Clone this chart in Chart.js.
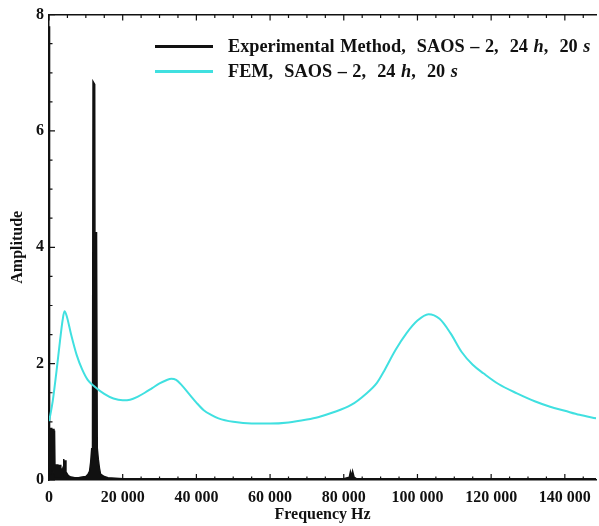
<!DOCTYPE html>
<html>
<head>
<meta charset="utf-8">
<script src="https://cdn.jsdelivr.net/npm/chart.js@4.4.1/dist/chart.umd.min.js"></script>
<style>
  body { margin: 0; background: #fff; }
  #wrap { position: relative; width: 599px; height: 526px; }
  #legend { position: absolute; left: 155px; top: 34px; font: bold 18.3px "Liberation Serif", serif; color: #111; word-spacing: 1px; }
  #legend .row { display: flex; align-items: center; height: 25px; white-space: pre; }
  #legend .swatch { width: 58px; height: 3px; margin-right: 15px; }
</style>
</head>
<body>
<div id="wrap">
  <canvas id="chart" width="599" height="526"></canvas>
  <div id="legend"></div>
</div>
<script>
// experimental spectrum (Hz, amplitude)
const expFreq = [0, 150, 300, 450, 600, 750, 900, 1050, 1200, 1350, 1500, 1650, 1800, 2000, 2200, 2400, 2600, 2800, 3000, 3200,
  3400, 3600, 3800, 4000, 4200, 4400, 4600, 4800, 5200, 5600, 6000, 7000, 8000, 9000, 10000, 10600, 11000, 11300, 11600, 11800,
  11950, 12050, 12400, 12550, 12700, 12900, 13100, 13400, 13700, 14000, 14500, 15000, 16000, 20000, 40000, 60000, 80000, 81500,
  81800, 82100, 82400, 82800, 83500, 100000, 120000, 148500];
const expAmp = [7.8, 0.2, 0.9, 0.1, 0.9, 0.2, 0.88, 0.15, 0.88, 0.1, 0.85, 0.05, 0.27, 0.05, 0.27, 0.05, 0.26, 0.05, 0.26, 0.05,
  0.2, 0.04, 0.22, 0.36, 0.04, 0.34, 0.05, 0.12, 0.08, 0.06, 0.05, 0.04, 0.04, 0.05, 0.06, 0.1, 0.15, 0.3, 0.55, 0.3,
  6.85, 6.85, 6.8, 0.5, 4.25, 4.25, 0.55, 0.35, 0.2, 0.1, 0.08, 0.06, 0.04, 0.02, 0.02, 0.02, 0.02, 0.05,
  0.14, 0.06, 0.15, 0.05, 0.02, 0.02, 0.02, 0.02];

// FEM response curve
const femFreq = [0, 1000, 2000, 3000, 3700, 4200, 4800, 6000, 7500, 9000, 10500, 12500, 15000, 17500, 20000, 22000, 24000,
  26000, 28000, 30000, 32000, 33200, 34500, 36000, 38000, 40000, 42000, 44000, 46000, 50000, 55000, 60000, 65000, 70000,
  73000, 77000, 82000, 86000, 89000, 91000, 94000, 97000, 100000, 103000, 106000, 109000, 112000, 115000, 118000, 122000,
  127000, 132000, 136000, 140000, 144000, 148500];
const femAmp = [1.0, 1.35, 1.85, 2.4, 2.75, 2.9, 2.82, 2.5, 2.15, 1.9, 1.72, 1.6, 1.48, 1.4, 1.37, 1.38, 1.43,
  1.5, 1.58, 1.66, 1.72, 1.74, 1.72, 1.63, 1.48, 1.33, 1.2, 1.12, 1.06, 1.0, 0.97, 0.97, 0.99, 1.04,
  1.08, 1.16, 1.29, 1.48, 1.67, 1.88, 2.23, 2.52, 2.74, 2.85, 2.77, 2.52, 2.2, 1.98, 1.83, 1.65,
  1.49, 1.35, 1.26, 1.19, 1.12, 1.06];

const xTicks = [0, 20000, 40000, 60000, 80000, 100000, 120000, 140000];
const xTickLabels = ['0', '20 000', '40 000', '60 000', '80 000', '100 000', '120 000', '140 000'];
const yTicks = [0, 2, 4, 6, 8];

const labels = [
  ['Experimental Method,  SAOS \u2013 2,  24 ', 'h', ',  20 ', 's'],
  ['FEM,  SAOS \u2013 2,  24 ', 'h', ',  20 ', 's']
];
const colors = ['#111111', '#40e0e0'];

const xMax = 148500;
const serif = '"Liberation Serif", "Times New Roman", serif';
const tickFont = { family: serif, size: 16, weight: 'bold' };

// inward Mathematica-style ticks
const frameTicks = {
  id: 'frameTicks',
  afterDraw(chart) {
    const ctx = chart.ctx;
    const x = chart.scales.x, y = chart.scales.y;
    const a = chart.chartArea;
    ctx.save();
    ctx.strokeStyle = '#111';
    ctx.lineWidth = 1.2;
    ctx.beginPath();
    for (let v = 0; v <= xMax; v += 5000) {
      const px = x.getPixelForValue(v);
      const len = v % 20000 === 0 ? 6 : 3.5;
      ctx.moveTo(px, a.bottom); ctx.lineTo(px, a.bottom - len);
      ctx.moveTo(px, a.top); ctx.lineTo(px, a.top + len);
    }
    for (let v = 0; v <= 8; v += 0.5) {
      const py = y.getPixelForValue(v);
      const len = v % 2 === 0 ? 6 : 3.5;
      ctx.moveTo(a.left, py); ctx.lineTo(a.left + len, py);
    }
    ctx.stroke();
    ctx.restore();
  }
};

new Chart(document.getElementById('chart'), {
  type: 'line',
  data: {
    datasets: [
      {
        label: labels[0].join(''),
        data: expFreq.map((f, i) => ({ x: f, y: expAmp[i] })),
        borderColor: colors[0],
        backgroundColor: colors[0],
        borderWidth: 1.5,
        fill: 'origin',
        pointRadius: 0,
        tension: 0,
        order: 2
      },
      {
        label: labels[1].join(''),
        data: femFreq.map((f, i) => ({ x: f, y: femAmp[i] })),
        borderColor: colors[1],
        borderWidth: 2,
        fill: false,
        pointRadius: 0,
        cubicInterpolationMode: 'monotone',
        order: 1
      }
    ]
  },
  options: {
    responsive: false,
    animation: false,
    layout: { padding: 0 },
    plugins: { legend: { display: false }, tooltip: { enabled: false } },
    scales: {
      x: {
        type: 'linear',
        min: 0,
        max: xMax,
        afterFit: s => { s.height = 46; },
        afterBuildTicks: s => { s.ticks = xTicks.map(v => ({ value: v })); },
        ticks: {
          padding: 8,
          maxRotation: 0,
          minRotation: 0,
          autoSkip: false,
          color: '#111',
          font: tickFont,
          callback: v => xTickLabels[xTicks.indexOf(v)]
        },
        grid: { drawOnChartArea: false, drawTicks: false },
        border: { display: true, color: '#111', width: 1.5 },
        title: {
          display: true,
          text: 'Frequency Hz',
          color: '#111',
          font: tickFont,
          padding: { top: 0, bottom: 2 }
        }
      },
      x2: {
        type: 'linear',
        position: 'top',
        min: 0,
        max: xMax,
        afterFit: s => { s.height = 14; },
        ticks: { display: false },
        grid: { drawOnChartArea: false, drawTicks: false },
        border: { display: true, color: '#111', width: 1.5 }
      },
      y: {
        min: 0,
        max: 8,
        afterFit: s => { s.width = 49; },
        afterBuildTicks: s => { s.ticks = yTicks.map(v => ({ value: v })); },
        ticks: {
          padding: 5,
          autoSkip: false,
          color: '#111',
          font: tickFont
        },
        grid: { drawOnChartArea: false, drawTicks: false },
        border: { display: true, color: '#111', width: 1.5 },
        title: {
          display: true,
          text: 'Amplitude',
          color: '#111',
          font: tickFont,
          padding: { top: 8, bottom: 0 }
        }
      }
    }
  },
  plugins: [frameTicks]
});

// legend with italic h and s
const legend = document.getElementById('legend');
labels.forEach((parts, i) => {
  const row = document.createElement('div');
  row.className = 'row';
  const sw = document.createElement('span');
  sw.className = 'swatch';
  sw.style.background = colors[i];
  row.appendChild(sw);
  parts.forEach((p, k) => {
    const el = document.createElement(k % 2 ? 'i' : 'span');
    el.textContent = p;
    row.appendChild(el);
  });
  legend.appendChild(row);
});
</script>
</body>
</html>
